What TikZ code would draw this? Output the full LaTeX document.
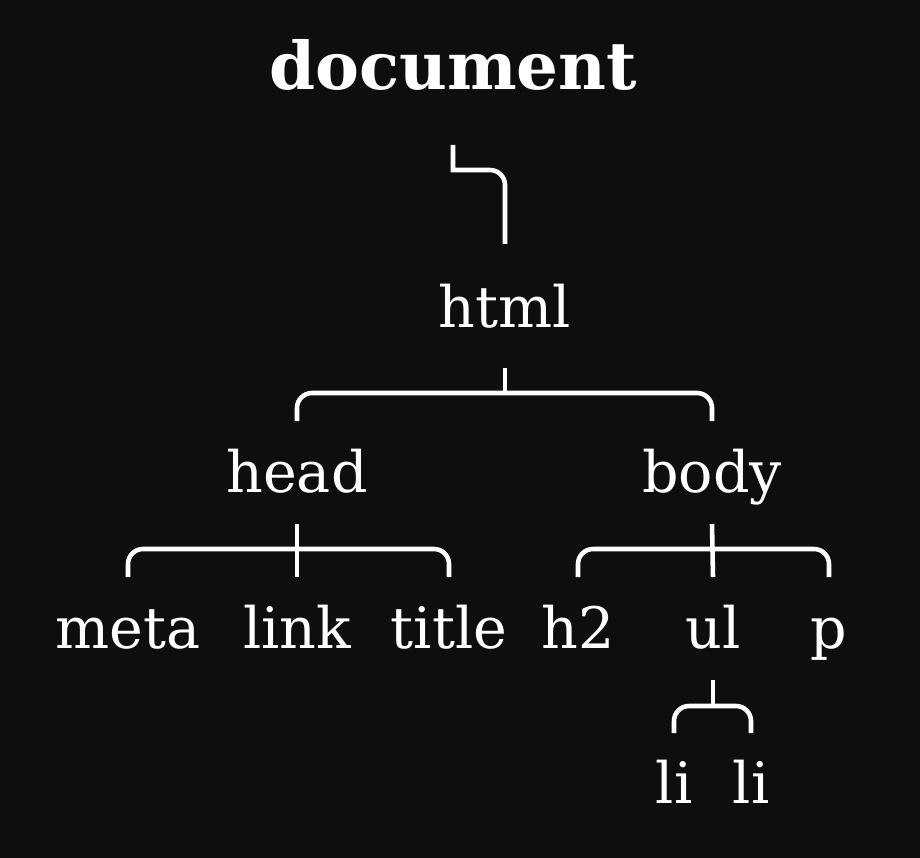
\documentclass[tikz,border=0pt]{standalone}
\usepackage{fontspec}
\setmainfont{DejaVu Serif}
\usetikzlibrary{calc}
\definecolor{bgdark}{HTML}{0E0E0E}
\tikzset{
  tag/.style={anchor=base, text=white, inner sep=0pt, font=\fontsize{32.5}{40}\selectfont},
  roottag/.style={tag, font=\fontsize{37.5}{45}\selectfont\bfseries},
  bracket/.style={draw=white, line width=2.6pt},
}
\begin{document}
\begin{tikzpicture}[x=0.02cm, y=-0.02cm]
      \fill[bgdark] (0,0) rectangle (920,858);
      \useasboundingbox (0,0) rectangle (920,858);
      \path
        (453,90) node[roottag] (document){document}
        (505,328) node[tag] (html){html}
        (297,492) node[tag] (head){head}
        (712,492) node[tag] (body){body}
        (128,648) node[tag] (meta){meta}
        (297,648) node[tag] (link){link}
        (449,648) node[tag] (title){title}
        (578,648) node[tag] (h2){h2}
        (713,648) node[tag] (ul){ul}
        (829,648) node[tag] (p){p}
        (674,803) node[tag] (li1){li}
        (751,803) node[tag] (li2){li};
      \begin{scope}[bracket]
        \draw ($(document.base)+(0,55)$) -- ++(0,25) [rounded corners=0.3cm] -| ($(html.base)+(0,-84)$);
        \draw ($(html.base)+(0,40)$) -- ($(html.base)+(0,65)$);
        \draw[rounded corners=0.3cm] ($(head.base)+(0,-71)$) |- ($(html.base)+(0,65)$) -| ($(body.base)+(0,-71)$);
        \draw ($(head.base)+(0,32)$) -- ($(link.base)+(0,-71)$);
        \draw[rounded corners=0.3cm] ($(meta.base)+(0,-71)$) |- ($(head.base)+(0,57)$) -| ($(title.base)+(0,-71)$);
        \draw ($(body.base)+(0,32)$) -- ($(ul.base)+(0,-71)$);
        \draw[rounded corners=0.3cm] ($(h2.base)+(0,-71)$) |- ($(body.base)+(0,57)$) -| ($(p.base)+(0,-71)$);
        \draw ($(ul.base)+(0,32)$) -- ($(ul.base)+(0,58)$);
        \draw[rounded corners=0.3cm] ($(li1.base)+(0,-70)$) |- ($(ul.base)+(0,58)$) -| ($(li2.base)+(0,-70)$);
      \end{scope}
\end{tikzpicture}
\end{document}
